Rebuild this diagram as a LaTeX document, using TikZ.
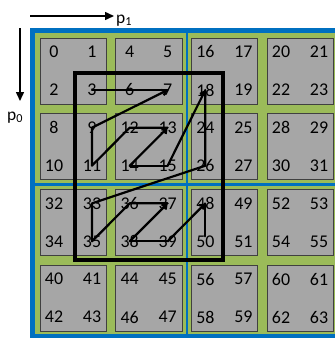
\documentclass[tikz,border=0pt]{standalone}
\usepackage{fontspec}
\setmainfont{Carlito}
\usetikzlibrary{arrows.meta}
\definecolor{cblue}{RGB}{0,112,192}
\definecolor{cgreen}{RGB}{155,187,89}
\definecolor{cgray}{RGB}{166,166,166}
\definecolor{cedge}{RGB}{64,64,64}
\begin{document}
\begin{tikzpicture}[x=1bp,y=-1bp,
 cell/.style={fill=cgray,draw=cedge,line width=0.8bp},
 num/.style={inner sep=0pt,font=\fontsize{18}{20}\selectfont},
 lbl/.style={inner sep=0pt,font=\fontsize{17.5}{20}\selectfont},
 zline/.style={line width=2.2bp,line cap=round,line join=round},
 zarrow/.style={zline,-{Straight Barb[length=4bp,width=6bp]}},
 axis/.style={line width=1.5bp,-{Triangle[length=9bp,width=8bp]}},
 region/.style={line width=3.5bp}]
\useasboundingbox (0,0) rectangle (335,338);
\clip (0,0) rectangle (335,338);
% frame
\fill[cblue] (30,28) rectangle (345,345);
\fill[cgreen] (35,32.5) rectangle (340,333.5);
\fill[cblue] (185.5,32.5) rectangle (188,333.5);
\fill[cblue] (35,183) rectangle (340,185.5);
% cells
\foreach \R in {0,...,3}{\foreach \C in {0,...,3}{
  \draw[cell] ({40+75.67*\C},{38+75.67*\R}) rectangle +(66.5,66);
}}
% numbers
\foreach \r in {0,...,7}{\foreach \c in {0,...,7}{
  \pgfmathtruncatemacro\n{mod(\c,2)+2*mod(\r,2)+4*mod(int(\c/2),2)+8*mod(int(\r/2),2)+16*int(\c/4)+32*int(\r/4)}
  \pgfmathsetmacro\px{40+75.67*int(\c/2)+14+38*mod(\c,2)}
  \pgfmathsetmacro\py{38+75.67*int(\r/2)+14+38*mod(\r,2)}
  \node[num] (n\n) at (\px,\py) {\n};
}}
% axes
\node[lbl,anchor=base west] (p1) at (116,23) {p\textsubscript{1}};
\node[lbl,anchor=base west] (p0) at (7,120) {p\textsubscript{0}};
\coordinate (a1s) at (30,16);
\coordinate (a1e) at (114,16);
\coordinate (a0s) at (20,28);
\coordinate (a0e) at (20,101);
\draw[axis] (a1s) -- (a1e);
\draw[axis] (a0s) -- (a0e);
% region box
\draw[region] (75,73) rectangle (223,260);
% z-order path
\draw[zline] (n3.center) -- (n7.center);
\draw[zarrow] (n9.center) -- (n7.center);
\draw[zline] (n9.center) -- (n11.center) -- (n12.center) -- (n13.center);
\draw[zarrow] (n14.center) -- (n13.center);
\draw[zline] (n14.center) -- (n15.center);
\draw[zarrow] (n15.center) -- (n18.center);
\draw[zline] (n18.center) -- (n26.center) -- (n33.center) -- (n35.center) -- (n36.center) -- (n37.center);
\draw[zarrow] (n38.center) -- (n37.center);
\draw[zline] (n38.center) -- (n39.center);
\draw[zarrow] (n39.center) -- (n48.center);
\draw[zline] (n48.center) -- ([yshift=5bp]n50.center);
\end{tikzpicture}
\end{document}
